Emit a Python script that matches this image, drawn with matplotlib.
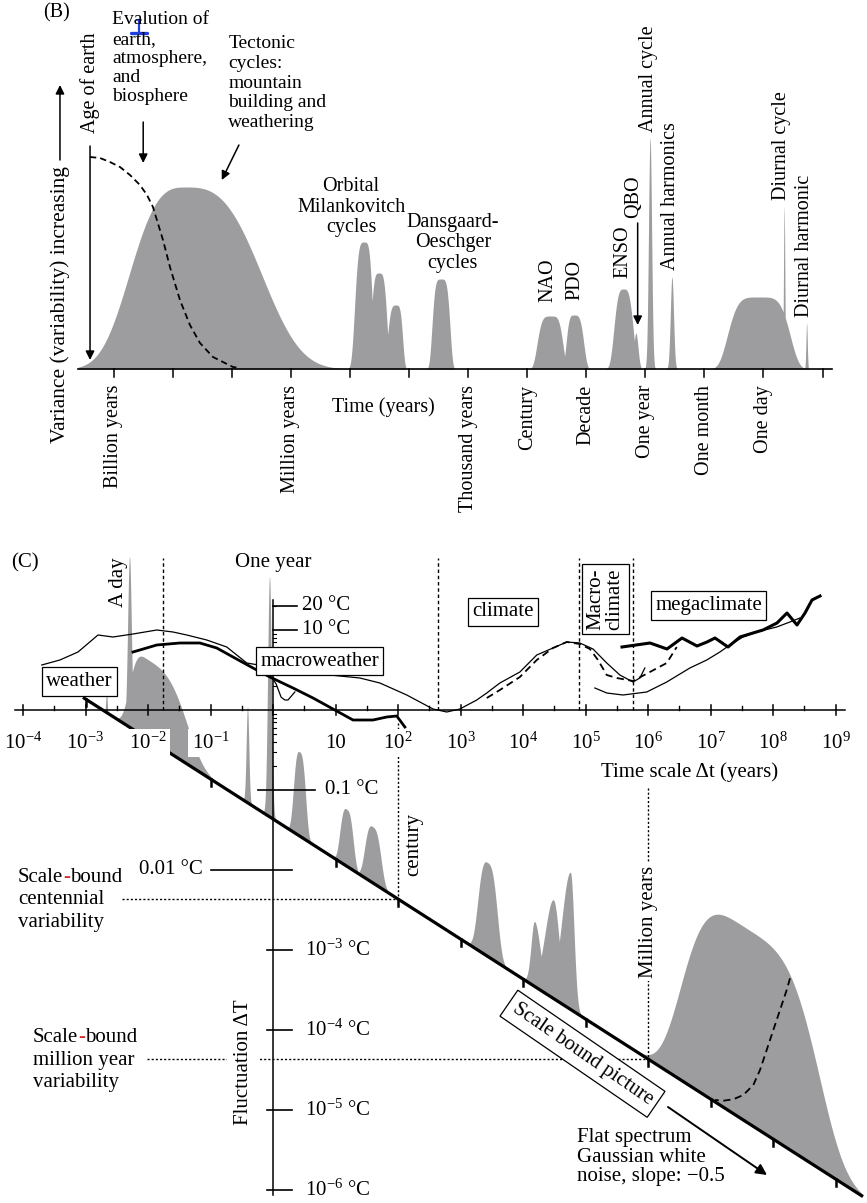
import numpy as np
import matplotlib
matplotlib.use("Agg")
import matplotlib.pyplot as plt

plt.rcParams["font.family"] = ["Liberation Serif", "DejaVu Serif"]
plt.rcParams["mathtext.fontset"] = "custom"
plt.rcParams["mathtext.rm"] = "Liberation Serif"
plt.rcParams["mathtext.it"] = "Liberation Serif:italic"
plt.rcParams["mathtext.bf"] = "Liberation Serif:bold"

# ------------------------------------------------------------------
# (B) schematic spectrum of climate variability
#     x: log10 frequency [cycles / yr], one decade per tick (schematic)
#     y: relative variance
# ------------------------------------------------------------------
B_TICKS = [-9, -8, -7, -6, -5, -4, -3, -2, -1, 0, 1, 2, 3]
B_TICK_LABELS = ["Billion years", "", "", "Million years", "", "",
                 "Thousand years", "Century", "Decade", "One year",
                 "One month", "One day", ""]

B_PEAK_NAMES = ["tectonic", "orbital 1", "orbital 2", "orbital 3", "D-O",
                "NAO", "PDO", "ENSO", "QBO", "annual", "annual harmonic",
                "weather", "diurnal", "diurnal harmonic"]
B_PEAK_CENTER = [-7.79, -4.76, -4.51, -4.22, -3.46, -1.60, -1.21, -0.37,
                 -0.16, 0.08, 0.45, 1.92, 2.35, 2.73]
B_PEAK_HEIGHT = [1.82, 1.27, 0.96, 0.64, 0.90, 0.53, 0.54, 0.80, 0.36,
                 2.31, 0.92, 0.72, 1.62, 0.46]
B_PEAK_WIDTH_LEFT = [0.965, 0.161, 0.135, 0.145, 0.150, 0.230, 0.130, 0.164,
                     0.042, 0.031, 0.032, 0.521, 0.0135, 0.0135]
B_PEAK_WIDTH_RIGHT = [1.32, 0.140, 0.135, 0.110, 0.150, 0.200, 0.165, 0.164,
                      0.042, 0.031, 0.032, 0.521, 0.0135, 0.0135]
B_PEAK_SHAPE = [3, 4, 4, 4, 4.5, 4.5, 4, 3.5, 2, 2, 2, 4.7, 2, 2]

# decline associated with the evolution of earth, atmosphere and biosphere
B_EVOL_FREQ = [-9.401, -9.232, -9.063, -8.893, -8.724, -8.555, -8.436,
               -8.335, -8.165, -8.047, -7.878, -7.709, -7.539, -7.319,
               -6.981, -6.862]
B_EVOL_VAR = [2.12, 2.11, 2.07, 2.02, 1.94, 1.84, 1.74, 1.62, 1.29, 1.02,
              0.69, 0.44, 0.26, 0.12, 0.02, 0.01]

# ------------------------------------------------------------------
# (C) RMS fluctuation dT versus time scale dt (log-log)
# ------------------------------------------------------------------
C_TICK_EXP = [-4, -3, -2, -1, 0, 1, 2, 3, 4, 5, 6, 7, 8, 9]
C_TICK_LABELS = ["10$^{-4}$", "10$^{-3}$", "10$^{-2}$", "10$^{-1}$", "",
                 "10", "10$^{2}$", "10$^{3}$", "10$^{4}$", "10$^{5}$",
                 "10$^{6}$", "10$^{7}$", "10$^{8}$", "10$^{9}$"]
C_TEMP_VALUES = [20, 10, 0.1, 0.01, 1e-3, 1e-4, 1e-5, 1e-6]
C_TEMP_LABELS = ["20 °C", "10 °C", "0.1 °C", "0.01 °C", "10$^{-3}$ °C",
                 "10$^{-4}$ °C", "10$^{-5}$ °C", "10$^{-6}$ °C"]

# white-noise (scale bound) reference: dT = amp * dt^slope
C_WHITE_NOISE_AMP = 0.0434
C_WHITE_NOISE_SLOPE = -0.5

# regime transition scales [yr]
C_REGIME_BOUNDS = [0.0174, 437.0, 7.94e4, 5.75e5]

# spectral features drawn on top of the scale-bound line
# (centre log10 dt, height in decades of dT, widths, shape)
C_PEAK_NAMES = ["diurnal harmonic", "a day", "weather", "annual harmonic",
                "annual", "ENSO", "PDO", "NAO", "D-O", "orbital 1",
                "orbital 2", "orbital 3", "tectonic"]
C_PEAK_CENTER = [-2.656, -2.288, -2.016, -0.40, -0.048, 0.432, 1.184, 1.60,
                 3.44, 4.192, 4.496, 4.768, 7.552]
C_PEAK_HEIGHT = [0.29, 2.13, 0.99, 1.20, 3.00, 1.05, 0.71, 0.70, 1.17,
                 0.81, 1.23, 1.71, 2.42]
C_PEAK_WIDTH_LEFT = [0.012, 0.035, 0.28, 0.025, 0.035, 0.10, 0.11, 0.13,
                     0.16, 0.065, 0.16, 0.165, 1.008]
C_PEAK_WIDTH_RIGHT = [0.012, 0.035, 0.65, 0.025, 0.035, 0.10, 0.11, 0.14,
                      0.16, 0.11, 0.11, 0.065, 1.176]
C_PEAK_SHAPE = [2, 2, 3.5, 2, 2, 3, 3, 3, 3, 2, 2, 2, 4]

# fluctuation curves: log10 dt [yr], log10 dT [°C]
C_THIN_LOG_DT = [-3.70, -3.41, -3.12, -2.80, -2.56, -2.24, -1.86, -1.60,
                 -1.38, -1.06, -0.74, -0.42, 0.43, 1.39, 1.71, 2.14, 2.56,
                 2.78, 2.99, 3.26, 3.42, 3.63, 3.95, 4.22, 4.48, 4.70, 4.91,
                 5.12, 5.34, 5.55, 5.76, 5.87, 5.95]
C_THIN_LOG_T = [0.5625, 0.625, 0.725, 0.9375, 0.9125, 0.95, 1.0, 0.975,
                0.9375, 0.875, 0.7875, 0.5875, 0.475, 0.40, 0.3375, 0.1875,
                0.0125, -0.025, 0.0125, 0.125, 0.2125, 0.3375, 0.475, 0.6875,
                0.775, 0.85, 0.8375, 0.7625, 0.5875, 0.4375, 0.35, 0.40,
                0.525]
C_MACRO_LOG_DT = [-2.24, -1.86, -1.49, -1.17, -0.90, -0.64, -0.32, -0.05,
                  0.32, 0.64, 0.96, 1.28, 1.60, 1.82, 1.98, 2.11]
C_MACRO_LOG_T = [0.725, 0.8125, 0.8375, 0.8375, 0.775, 0.6625, 0.525,
                 0.4125, 0.275, 0.15, 0.0125, -0.125, -0.125, -0.0875,
                 -0.075, -0.2125]
C_SQUIGGLE_LOG_DT = [-0.02, 0.05, 0.13, 0.19, 0.24, 0.35]
C_SQUIGGLE_LOG_T = [0.41, 0.325, 0.16, 0.125, 0.125, 0.225]
C_CLIMATE_DASH_LOG_DT = [3.42, 3.63, 3.95, 4.22, 4.48, 4.70, 4.91, 5.07,
                         5.20, 5.34, 5.50, 5.76, 6.03, 6.30, 6.46]
C_CLIMATE_DASH_LOG_T = [0.15, 0.25, 0.4125, 0.625, 0.775, 0.85, 0.825,
                        0.7625, 0.625, 0.4375, 0.40, 0.3625, 0.475, 0.5875,
                        0.7875]
C_MEGA_THIN_LOG_DT = [5.15, 5.34, 5.60, 5.98, 6.30, 6.67, 6.94, 7.15, 7.31,
                      7.52, 7.74, 8.06, 8.27, 8.43]
C_MEGA_THIN_LOG_T = [0.275, 0.2125, 0.1875, 0.225, 0.35, 0.525, 0.625,
                     0.725, 0.8125, 0.9125, 0.975, 1.0375, 1.10, 1.15]
C_MEGA_THICK_LOG_DT = [5.584, 6.032, 6.304, 6.544, 6.784, 6.944, 7.072,
                       7.28, 7.472, 7.68, 7.84, 8.064, 8.224, 8.384, 8.512,
                       8.624, 8.752]
C_MEGA_THICK_LOG_T = [0.7875, 0.8375, 0.7625, 0.90, 0.80, 0.85, 0.90,
                      0.7875, 0.9125, 0.9625, 1.0, 1.0875, 1.2125, 1.0625,
                      1.2125, 1.375, 1.425]
C_TECT_DASH_LOG_DT = [8.272, 8.219, 8.112, 8.005, 7.899, 7.792, 7.685,
                      7.525, 7.365, 7.205, 7.072]
C_TECT_DASH_LOG_T = [-3.354, -3.50, -3.75, -4.0, -4.25, -4.5, -4.6875,
                     -4.8125, -4.866, -4.884, -4.875]

GREY = "#9d9d9f"
FS_B = 14.5
FS_NOTE = 14
FS_C = 15


def bumps(x, centers, heights, wl, wr, shapes):
    out = np.zeros_like(x)
    for c, h, a, b, k in zip(centers, heights, wl, wr, shapes):
        w = np.where(x < c, a, b)
        out = np.maximum(out, h * np.exp(-np.log(2) * np.abs((x - c) / w) ** k))
    return out


def arrow(ax, tail, tip, lw=1.1, ms=13):
    ax.annotate("", xy=tip, xytext=tail,
                arrowprops=dict(arrowstyle="-|>", color="black", lw=lw,
                                mutation_scale=ms, shrinkA=0, shrinkB=0))


fig = plt.figure(figsize=(8.67, 12.03), dpi=100)

# ---------------------------- panel B -----------------------------
axB = fig.add_axes([0, 0, 1, 1])
axB.set_xlim(-10.924, 3.752)
axB.set_ylim(-8.34, 3.69)
axB.axis("off")

fB = np.linspace(-9.6, 3.2, 7000)
varB = bumps(fB, B_PEAK_CENTER, B_PEAK_HEIGHT, B_PEAK_WIDTH_LEFT,
             B_PEAK_WIDTH_RIGHT, B_PEAK_SHAPE)
axB.fill_between(fB, 0, varB, color=GREY, lw=0, zorder=1)
axB.plot(B_EVOL_FREQ, B_EVOL_VAR, color="black", lw=1.3,
         dashes=(3.5, 2.2), zorder=3)

axB.plot([-9.61, 3.16], [0, 0], color="black", lw=1.2, zorder=4)
for t, lab in zip(B_TICKS, B_TICK_LABELS):
    axB.plot([t, t], [0, -0.08], color="black", lw=1.1, zorder=4)
    if lab:
        axB.text(t, -0.16, lab, rotation=90, ha="center", va="top",
                 fontsize=FS_B)
axB.text(-4.44, -0.38, "Time (years)", ha="center", va="center",
         fontsize=FS_B)

axB.text(-9.975, 3.56, "(B)", ha="center", va="center", fontsize=FS_B)
axB.text(-9.909, 0.64, "Variance (variability) increasing", rotation=90,
         ha="center", va="center", fontsize=15.5)
arrow(axB, (-9.909, 2.09), (-9.909, 2.84))

axB.text(-9.40, 2.36, "Age of earth", rotation=90, ha="center",
         va="bottom", fontsize=FS_B)
arrow(axB, (-9.40, 2.23), (-9.40, 0.09))

axB.text(-9.029, 3.575, "Evalution of\nearth,\natmosphere,\nand\nbiosphere",
         ha="left", va="top", fontsize=FS_NOTE, linespacing=1.17)
# small blue cursor mark over the first word
axB.plot([-8.572, -8.572], [3.36, 3.49], color="#1f3fe0", lw=1.6)
axB.plot([-8.70, -8.44], [3.36, 3.36], color="#1f3fe0", lw=2.4,
         solid_capstyle="round")
axB.plot([-8.61, -8.535], [3.49, 3.49], color="#1f3fe0", lw=1.2)
arrow(axB, (-8.50, 2.47), (-8.50, 2.06))

axB.text(-7.06, 3.335, "Tectonic\ncycles:\nmountain\nbuilding and\nweathering",
         ha="left", va="top", fontsize=FS_NOTE, linespacing=1.2)
arrow(axB, (-6.88, 2.24), (-7.17, 1.89))

axB.text(-4.98, 1.62, "Orbital\nMilankovitch\ncycles", ha="center",
         va="center", fontsize=FS_B, linespacing=1.12)
axB.text(-3.26, 1.26, "Dansgaard-\nOeschger\ncycles", ha="center",
         va="center", fontsize=FS_B, linespacing=1.12)

for f, h, lab in [(-1.65, 0.67, "NAO"), (-1.19, 0.69, "PDO"),
                  (-0.38, 0.91, "ENSO"), (-0.19, 1.51, "QBO"),
                  (0.06, 2.37, "Annual cycle"),
                  (0.42, 0.99, "Annual harmonics"),
                  (2.31, 1.69, "Diurnal cycle"),
                  (2.70, 0.52, "Diurnal harmonic")]:
    axB.text(f, h, lab, rotation=90, ha="center", va="bottom", fontsize=FS_B)
arrow(axB, (-0.13, 1.46), (-0.13, 0.44))

# ---------------------------- panel C -----------------------------
axC = fig.add_axes([0, 0, 1, 1])
axC.set_xscale("log")
axC.set_yscale("log")
axC.set_xlim(10 ** -4.368, 10 ** 9.504)
axC.set_ylim(10 ** -6.1625, 10 ** 8.875)
axC.axis("off")
axC.patch.set_visible(False)


def E(v):
    return 10.0 ** np.asarray(v, dtype=float)


def line_T(p):
    return np.log10(C_WHITE_NOISE_AMP) + C_WHITE_NOISE_SLOPE * p


pC = np.linspace(-3.04, 9.44, 9000)
qLine = line_T(pC)
profC = bumps(pC, C_PEAK_CENTER, C_PEAK_HEIGHT, C_PEAK_WIDTH_LEFT,
              C_PEAK_WIDTH_RIGHT, C_PEAK_SHAPE)
axC.fill_between(E(pC), E(qLine), E(qLine + profC), where=profC > 1e-3,
                 color=GREY, lw=0, zorder=1)
axC.plot(E(pC), E(qLine), color="black", lw=2.3, zorder=4,
         solid_capstyle="butt")

for k in C_TICK_EXP:
    if k in (0, -4):
        continue
    axC.plot([10.0 ** k] * 2, [E(line_T(k)), E(line_T(k) - 0.0875)],
             color="black", lw=1.8, zorder=4)

# time-scale axis through dT = 1 °C
axC.plot([E(-4.13), E(9.15)], [1, 1], color="black", lw=1.1, zorder=4)
for k, lab in zip(C_TICK_EXP, C_TICK_LABELS):
    axC.plot([10.0 ** k] * 2, [E(-0.0625), E(0.0625)], color="black",
             lw=1.1, zorder=4)
    if lab:
        axC.text(10.0 ** k, E(-0.4125), lab, ha="center", va="center",
                 fontsize=FS_C, zorder=6,
                 bbox=dict(fc="white", ec="none", pad=2.5))
for k in C_TICK_EXP[:-1]:
    axC.plot([E(k + 0.5)] * 2, [1, E(0.045)], color="black", lw=1.0,
             zorder=4)
axC.text(E(6.672), E(-0.775), "Time scale \u0394t (years)", ha="center",
         va="center", fontsize=FS_C)

# fluctuation axis at dt = 1 yr
axC.plot([1, 1], [E(-6.06), E(1.375)], color="black", lw=1.1, zorder=4)
for dec in (0.1, 1.0, 10.0):
    for m in range(2, 10):
        v = m * dec
        if v > 20:
            continue
        axC.plot([1, E(0.045)], [v, v], color="black", lw=0.8, zorder=4)
tick_span = {20: (0.0, 0.38, 0.46, "left"), 10: (0.0, 0.38, 0.46, "left"),
             0.1: (-0.24, 0.67, 0.83, "left"),
             0.01: (-1.0, 0.30, -1.12, "right")}
for v, lab in zip(C_TEMP_VALUES, C_TEMP_LABELS):
    a, b, tx, ha = tick_span.get(v, (-0.1, 0.30, 0.51, "left"))
    axC.plot([E(a), E(b)], [v, v], color="black", lw=1.2, zorder=4)
    axC.text(E(tx), v, lab, ha=ha, va="center", fontsize=FS_C)
axC.text(E(-0.48), E(-4.4), "Fluctuation \u0394T", rotation=90, ha="center",
         va="center", fontsize=FS_C, zorder=6,
         bbox=dict(fc="white", ec="none", pad=5))

# regime boundaries
for b in C_REGIME_BOUNDS:
    axC.plot([b, b], [1, E(1.9)], color="black", lw=1.0,
             dashes=(2.5, 2.0), zorder=2)

# fluctuation curves
axC.plot(E(C_THIN_LOG_DT), E(C_THIN_LOG_T), color="black", lw=0.9, zorder=3)
axC.plot(E(C_MACRO_LOG_DT), E(C_MACRO_LOG_T), color="black", lw=2.0,
         zorder=3)
axC.plot(E(C_SQUIGGLE_LOG_DT), E(C_SQUIGGLE_LOG_T), color="black", lw=0.9,
         zorder=3)
axC.plot(E(C_CLIMATE_DASH_LOG_DT), E(C_CLIMATE_DASH_LOG_T), color="black",
         lw=1.3, dashes=(4, 2.5), zorder=3)
axC.plot(E(C_MEGA_THIN_LOG_DT), E(C_MEGA_THIN_LOG_T), color="black", lw=0.9,
         zorder=3)
axC.plot(E(C_MEGA_THICK_LOG_DT), E(C_MEGA_THICK_LOG_T), color="black",
         lw=2.2, zorder=3)
axC.plot(E(C_TECT_DASH_LOG_DT), E(C_TECT_DASH_LOG_T), color="black", lw=1.3,
         dashes=(4, 2.5), zorder=3)

box = dict(boxstyle="square,pad=0.22", fc="white", ec="black", lw=0.9)
axC.text(E(-3.096), E(0.356), "weather", ha="center", va="center",
         fontsize=FS_C, bbox=box, zorder=5)
axC.text(E(0.744), E(0.6125), "macroweather", ha="center", va="center",
         fontsize=FS_C, bbox=box, zorder=5)
axC.text(E(3.68), E(1.225), "climate", ha="center", va="center",
         fontsize=FS_C, bbox=box, zorder=5)
axC.text(E(5.32), E(1.3875), "Macro-\nclimate", rotation=90, ha="center",
         va="center", fontsize=FS_C, bbox=box, zorder=5, linespacing=0.95)
axC.text(E(6.968), E(1.306), "megaclimate", ha="center", va="center",
         fontsize=FS_C, bbox=box, zorder=5)

axC.text(E(-3.97), E(1.8375), "(C)", ha="center", va="center", fontsize=FS_C)
axC.text(1.0, E(1.85), "One year", ha="center", va="center", fontsize=FS_C)
axC.text(E(-2.48), E(1.6), "A day", rotation=90, ha="center", va="center",
         fontsize=FS_C)

# scale-bound reference marks
axC.plot([100, 100], [E(-0.1625), E(line_T(2))], color="black", lw=1.0,
         dashes=(1.5, 1.5), zorder=2)
axC.plot([E(-2.42), 100], [E(line_T(2))] * 2, color="black", lw=1.0,
         dashes=(1.5, 1.5), zorder=2)
axC.text(E(2.256), E(-1.675), "century", rotation=90, ha="center",
         va="center", fontsize=FS_C)
axC.plot([1e6, 1e6], [E(-0.975), E(line_T(6))], color="black", lw=1.0,
         dashes=(1.5, 1.5), zorder=2)
axC.plot([E(-2.02), 1e6], [E(line_T(6))] * 2, color="black", lw=1.0,
         dashes=(1.5, 1.5), zorder=2)
axC.text(1e6, E(-2.65), "Million years", rotation=90, ha="center",
         va="center", fontsize=FS_C, zorder=6,
         bbox=dict(fc="white", ec="none", pad=2))


def hyphen_line(ax, x, y, left, right):
    t1 = ax.text(x, y, left, ha="left", va="center", fontsize=FS_C)
    t2 = ax.annotate("-", xy=(1, 0), xycoords=t1, ha="left", va="bottom",
                     fontsize=FS_C, color="#d42a2a")
    ax.annotate(right, xy=(1, 0), xycoords=t2, ha="left", va="bottom",
                fontsize=FS_C)


hyphen_line(axC, E(-4.08), E(-2.0875), "Scale", "bound")
axC.text(E(-4.08), E(-2.375), "centennial", ha="left", va="center",
         fontsize=FS_C)
axC.text(E(-4.08), E(-2.6625), "variability", ha="left", va="center",
         fontsize=FS_C)
hyphen_line(axC, E(-3.84), E(-4.1), "Scale", "bound")
axC.text(E(-3.84), E(-4.3875), "million year", ha="left", va="center",
         fontsize=FS_C)
axC.text(E(-3.84), E(-4.6625), "variability", ha="left", va="center",
         fontsize=FS_C)

axC.text(E(4.952), E(-4.297), "Scale bound picture", rotation=-34.5,
         rotation_mode="anchor", ha="center", va="center", fontsize=FS_C,
         zorder=6, bbox=dict(boxstyle="square,pad=0.3", fc="white",
                             ec="black", lw=0.9))
arrow(axC, (E(6.32), E(-4.9625)), (E(7.904), E(-5.8125)), lw=1.4, ms=16)
axC.text(E(4.864), E(-5.225),
         "Flat spectrum\nGaussian white\nnoise, slope: \u22120.5",
         ha="left", va="top", fontsize=FS_C, linespacing=1.05)

fig.savefig("out.png", dpi=100)
